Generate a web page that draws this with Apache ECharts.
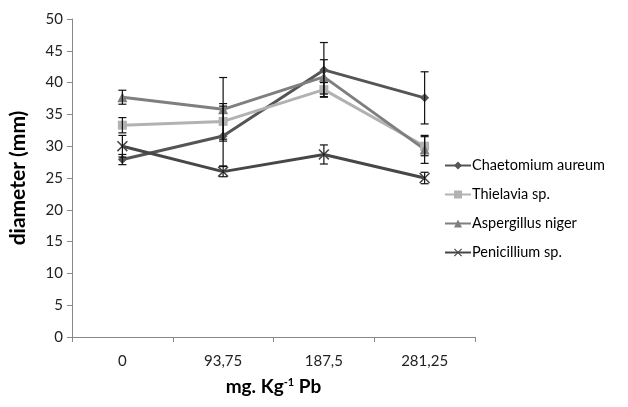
<!DOCTYPE html>
<html>
<head>
<meta charset="utf-8">
<script src="https://cdn.jsdelivr.net/npm/echarts@6/dist/echarts.min.js"></script>
<style>
  html, body { margin: 0; padding: 0; background: #fff; }
  #main { width: 628px; height: 407px; }
</style>
</head>
<body>
<div id="main"></div>
<script>
// concentrations on x
var doses = ['0', '93,75', '187,5', '281,25'];
var names = ['Chaetomium aureum', 'Thielavia sp.', 'Aspergillus niger', 'Penicillium sp.'];

// mean diameters (mm)
var chaetomium = [27.9, 31.6, 42.0, 37.6];
var thielavia = [33.3, 33.9, 38.9, 30.0];
var aspergillus = [37.7, 35.8, 40.9, 29.5];
var penicillium = [30.0, 26.0, 28.7, 25.0];

// error bar half widths
var chaetomiumErr = [0.8, 4.7, 4.3, 4.1];
var thielaviaErr = [1.2, 2.8, 1.1, 1.5];
var aspergillusErr = [1.1, 5.0, 2.7, 2.2];
var penicilliumErr = [1.7, 0.8, 1.5, 0.9];

var yTicks = { min: 0, max: 50, interval: 5 };

var means = [chaetomium, thielavia, aspergillus, penicillium];
var errs = [chaetomiumErr, thielaviaErr, aspergillusErr, penicilliumErr];
var colors = ['#555555', '#b2b2b2', '#7f7f7f', '#474747'];
var symbols = [
    'diamond',
    'rect',
    'triangle',
    'path://M0,1L1,0L5,4L9,0L10,1L6,5L10,9L9,10L5,6L1,10L0,9L4,5Z'
];
var symbolSizes = [9, 9, 10, 11];

var myChart = echarts.init(document.getElementById('main'));
var font = 'Lato, "Open Sans", sans-serif';

var series = [];
for (var i = 0; i < names.length; i++) {
    series.push({
        name: names[i],
        type: 'line',
        data: means[i],
        symbol: symbols[i],
        symbolSize: symbolSizes[i],
        showAllSymbol: true,
        lineStyle: { color: colors[i], width: 3 },
        itemStyle: { color: colors[i] },
        z: 2,
        animation: false
    });
}

// error bars
var errData = [];
for (var s = 0; s < means.length; s++) {
    for (var k = 0; k < doses.length; k++) {
        errData.push([k, means[s][k] - errs[s][k], means[s][k] + errs[s][k]]);
    }
}
series.push({
    type: 'custom',
    name: 'err',
    data: errData,
    z: 5,
    silent: true,
    animation: false,
    renderItem: function (params, api) {
        var x = api.value(0);
        var lo = api.coord([x, api.value(1)]);
        var hi = api.coord([x, api.value(2)]);
        var w = 4;
        var st = { stroke: '#111', lineWidth: 1.2 };
        return {
            type: 'group',
            children: [
                { type: 'line', shape: { x1: hi[0], y1: hi[1], x2: lo[0], y2: lo[1] }, style: st },
                { type: 'line', shape: { x1: hi[0] - w, y1: hi[1], x2: hi[0] + w, y2: hi[1] }, style: st },
                { type: 'line', shape: { x1: lo[0] - w, y1: lo[1], x2: lo[0] + w, y2: lo[1] }, style: st }
            ]
        };
    }
});

var option = {
    backgroundColor: '#fff',
    animation: false,
    grid: { left: 71, right: 153, top: 19, bottom: 70 },
    legend: {
        orient: 'vertical',
        left: 439,
        top: 153,
        itemWidth: 26,
        itemHeight: 10,
        itemGap: 14,
        data: names,
        textStyle: { fontFamily: font, fontSize: 14.5, color: '#000', padding: [0, 0, 0, -4] }
    },
    xAxis: {
        type: 'category',
        data: doses,
        boundaryGap: true,
        name: 'mg. Kg{sup|-1} Pb',
        nameLocation: 'middle',
        nameGap: 40,
        nameTextStyle: {
            fontFamily: font, fontSize: 19, fontWeight: 'bold', color: '#000',
            rich: {
                sup: { fontFamily: font, fontSize: 11, fontWeight: 'bold', color: '#000', verticalAlign: 'top', padding: [0, 0, 9, 0] }
            }
        },
        axisLine: { lineStyle: { color: '#888', width: 1 } },
        axisTick: { show: true, alignWithLabel: false, length: 5, lineStyle: { color: '#888' } },
        axisLabel: { fontFamily: font, fontSize: 15, color: '#222', margin: 17 },
        splitLine: { show: false }
    },
    yAxis: {
        type: 'value',
        min: yTicks.min,
        max: yTicks.max,
        interval: yTicks.interval,
        name: 'diameter (mm)',
        nameLocation: 'middle',
        nameGap: 43,
        nameRotate: 90,
        nameTextStyle: { fontFamily: font, fontSize: 21, fontWeight: 'bold', color: '#000' },
        axisLine: { show: true, lineStyle: { color: '#888', width: 1 } },
        axisTick: { show: true, length: 5, lineStyle: { color: '#888' } },
        axisLabel: { fontFamily: font, fontSize: 15, color: '#222', margin: 9 },
        splitLine: { show: false }
    },
    series: series
};

myChart.setOption(option, true);
</script>
</body>
</html>
